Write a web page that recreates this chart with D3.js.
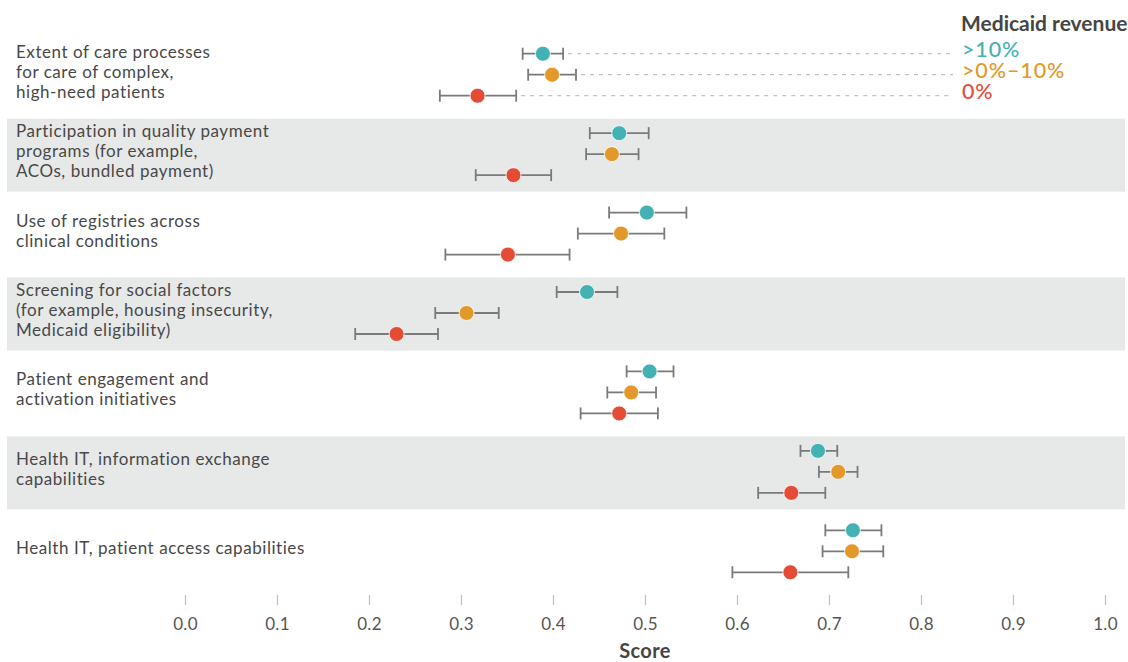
<!DOCTYPE html>
<html>
<head>
<meta charset="utf-8">
<script src="https://cdn.jsdelivr.net/npm/d3@7"></script>
<style>
  html, body { margin: 0; padding: 0; background: #fff; }
  svg { display: block; font-family: Lato, "Open Sans", sans-serif; }
</style>
</head>
<body>
<svg id="chart" width="1128" height="662"></svg>
<script>
// Capability domains (one row group each), written as wrapped label lines
const categories = [
  ["Extent of care processes", "for care of complex,", "high-need patients"],
  ["Participation in quality payment", "programs (for example,", "ACOs, bundled payment)"],
  ["Use of registries across", "clinical conditions"],
  ["Screening for social factors", "(for example, housing insecurity,", "Medicaid eligibility)"],
  ["Patient engagement and", "activation initiatives"],
  ["Health IT, information exchange", "capabilities"],
  ["Health IT, patient access capabilities"]
];

// Medicaid revenue groups
const series = [">10%", ">0%–10%", "0%"];
const seriesColors = ["#44b1b5", "#e3982a", "#e54c36"];

// Mean scores and confidence limits, one array per revenue group
const scoreHigh = [0.389, 0.472, 0.502, 0.437, 0.505, 0.688, 0.726];
const lowerHigh = [0.367, 0.440, 0.461, 0.404, 0.480, 0.669, 0.696];
const upperHigh = [0.411, 0.504, 0.545, 0.470, 0.531, 0.709, 0.757];

const scoreMid = [0.399, 0.464, 0.474, 0.306, 0.485, 0.710, 0.725];
const lowerMid = [0.373, 0.436, 0.427, 0.272, 0.459, 0.689, 0.693];
const upperMid = [0.425, 0.493, 0.521, 0.341, 0.512, 0.731, 0.759];

const scoreNone = [0.318, 0.357, 0.351, 0.230, 0.472, 0.659, 0.658];
const lowerNone = [0.277, 0.316, 0.283, 0.185, 0.430, 0.623, 0.595];
const upperNone = [0.360, 0.398, 0.418, 0.275, 0.514, 0.696, 0.721];

const xTicks = [0, 0.1, 0.2, 0.3, 0.4, 0.5, 0.6, 0.7, 0.8, 0.9, 1.0];
const xTitle = "Score";
const legendTitle = "Medicaid revenue";

const scores = [scoreHigh, scoreMid, scoreNone];
const lowers = [lowerHigh, lowerMid, lowerNone];
const uppers = [upperHigh, upperMid, upperNone];

const svg = d3.select("#chart");
const W = 1128;

const x = d3.scaleLinear().domain([0, 1]).range([185, 1105]);

const y = d3.scaleBand()
  .domain(d3.range(categories.length))
  .range([35, 591])
  .paddingInner(0.08)
  .paddingOuter(0.04);

const sub = d3.scalePoint().domain(series).range([-21, 21]);
const rowY = (gi, s) => y(gi) + y.bandwidth() / 2 + sub(s);

// Alternating shaded bands
svg.append("g").selectAll("rect")
  .data(categories.map((c, i) => i).filter(i => i % 2 === 1))
  .join("rect")
  .attr("x", 7).attr("width", W - 10)
  .attr("y", i => y(i) + 1).attr("height", y.bandwidth())
  .attr("fill", "#e7e8e8");

// Category labels
const lab = svg.append("g");
categories.forEach((lines, i) => {
  const cy = y(i) + y.bandwidth() / 2 - 3;
  const t = lab.append("text")
    .attr("x", 16)
    .attr("fill", "#484848")
    .attr("font-size", 17)
    .attr("letter-spacing", 0.55);
  lines.forEach((ln, k) => {
    t.append("tspan")
      .attr("x", 16)
      .attr("y", cy + (k - (lines.length - 1) / 2) * 20)
      .attr("dy", "0.35em")
      .text(ln);
  });
});

// Leader lines from the first row to the legend entries
const legendX = 962;
svg.append("g").selectAll("line")
  .data(series)
  .join("line")
  .attr("x1", (s, j) => x(uppers[j][0]) + 5)
  .attr("x2", legendX - 9)
  .attr("y1", (s) => rowY(0, s))
  .attr("y2", (s) => rowY(0, s))
  .attr("stroke", "#c2c2c2")
  .attr("stroke-width", 1.2)
  .attr("stroke-dasharray", "4,5");

// Error bars and points
const marks = svg.append("g");
series.forEach((s, j) => {
  categories.forEach((c, i) => {
    const yy = rowY(i, s);
    const g = marks.append("g").attr("stroke", "#7a7a7a").attr("stroke-width", 1.8);
    g.append("line").attr("x1", x(lowers[j][i])).attr("x2", x(uppers[j][i])).attr("y1", yy).attr("y2", yy);
    g.append("line").attr("x1", x(lowers[j][i])).attr("x2", x(lowers[j][i])).attr("y1", yy - 6).attr("y2", yy + 6);
    g.append("line").attr("x1", x(uppers[j][i])).attr("x2", x(uppers[j][i])).attr("y1", yy - 6).attr("y2", yy + 6);
    marks.append("circle")
      .attr("cx", x(scores[j][i]))
      .attr("cy", yy)
      .attr("r", 7.5)
      .attr("fill", seriesColors[j])
      .attr("stroke", "#fff")
      .attr("stroke-width", 0.8);
  });
});

// Legend
svg.append("text")
  .attr("x", legendX - 1).attr("y", 31)
  .attr("font-size", 21).attr("font-weight", 700)
  .attr("fill", "#454545")
  .text(legendTitle);
svg.append("g").selectAll("text")
  .data(series)
  .join("text")
  .attr("x", legendX)
  .attr("y", s => rowY(0, s) - 4)
  .attr("dy", "0.35em")
  .attr("font-size", 21.5)
  .attr("letter-spacing", 0.9)
  .attr("font-weight", 500)
  .attr("fill", (s, j) => seriesColors[j])
  .text(s => s);

// Score axis
const axis = d3.axisBottom(x).tickValues(xTicks).tickFormat(d3.format(".1f")).tickSize(10).tickPadding(13);
const ax = svg.append("g").attr("transform", "translate(0,595)").call(axis);
ax.select(".domain").remove();
ax.selectAll(".tick line").attr("stroke", "#bdbdbd").attr("stroke-width", 1.2);
ax.selectAll(".tick text")
  .attr("font-family", "Lato, 'Open Sans', sans-serif")
  .attr("font-size", 17)
  .attr("letter-spacing", 0.3)
  .attr("fill", "#555");

svg.append("text")
  .attr("x", x(0.5)).attr("y", 658)
  .attr("text-anchor", "middle")
  .attr("font-size", 20).attr("font-weight", 700)
  .attr("letter-spacing", 0.4)
  .attr("fill", "#454545")
  .text(xTitle);
</script>
</body>
</html>
